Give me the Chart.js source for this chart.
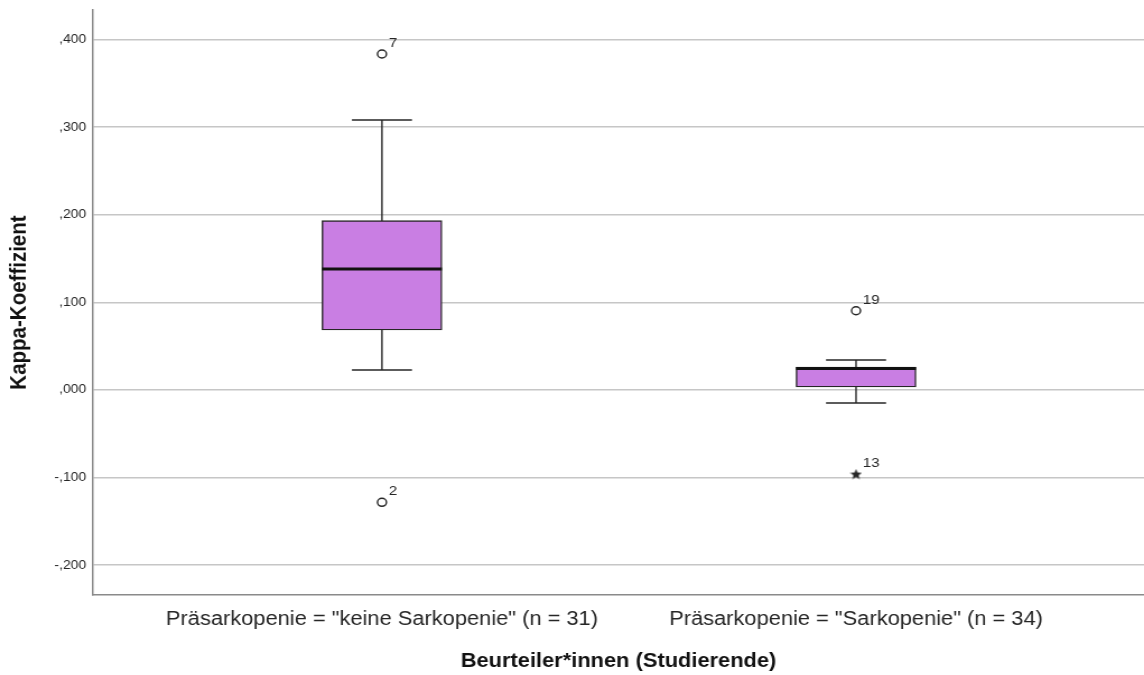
<!DOCTYPE html>
<html lang="de">
<head>
<meta charset="utf-8">
<title>Kappa-Koeffizient nach Präsarkopenie</title>
<script src="https://cdn.jsdelivr.net/npm/chart.js@4/dist/chart.umd.min.js"></script>
<style>
  html, body { margin: 0; padding: 0; background: #ffffff; overflow: hidden; }
  #wrap { width: 1021px; height: 675px; transform: scaleX(1.1205); transform-origin: 0 0; }
</style>
</head>
<body>
<div id="wrap"><canvas id="chart" width="1021" height="675"></canvas></div>
<script>
// Gruppen (x-Positionen 1 und 2)
const categories = ['Präsarkopenie = "keine Sarkopenie" (n = 31)', 'Präsarkopenie = "Sarkopenie" (n = 34)'];
// Boxplot-Kennwerte je Gruppe
const whiskerLow  = [0.0228, -0.0148];
const quartile1   = [0.0685, 0.0034];
const medianValue = [0.1381, 0.0245];
const quartile3   = [0.1933, 0.0263];
const whiskerHigh = [0.3082, 0.0342];
// Ausreißer (o) und Extremwerte (*) mit Fallnummern
const outlierGroup = [1, 1, 2];
const outlierValue = [0.3836, -0.1282, 0.0905];
const outlierCase  = ['7', '2', '19'];
const extremeGroup = [2];
const extremeValue = [-0.0959];
const extremeCase  = ['13'];
// Achsenbeschriftung
const yTickValues = [-0.2, -0.1, 0, 0.1, 0.2, 0.3, 0.4];

const FONT = "'Liberation Sans', Arial, sans-serif";
const INK = '#262626';

function formatKappa(v) {
  const s = Math.abs(v).toFixed(3).split('.')[1];
  return (v < -1e-9 ? '-' : '') + ',' + s;
}

// gefüllter Stern für Extremwerte
function makeStar(size) {
  const c = document.createElement('canvas');
  c.width = size; c.height = size;
  const g = c.getContext('2d');
  g.fillStyle = INK;
  g.beginPath();
  for (let i = 0; i < 10; i++) {
    const r = i % 2 ? size * 0.22 : size * 0.5;
    const a = -Math.PI / 2 + i * Math.PI / 5;
    g.lineTo(size / 2 + r * Math.cos(a), size / 2 + 0.5 + r * Math.sin(a));
  }
  g.closePath();
  g.fill();
  return c;
}

const groups = categories.map((_, i) => i + 1);

const boxData = groups.map((g, i) => ({ x: g, y: [quartile1[i], quartile3[i]] }));
const whiskerData = [];
groups.forEach((g, i) => {
  whiskerData.push({ x: g, y: whiskerLow[i] }, { x: g, y: whiskerHigh[i] }, { x: g + 0.5, y: null });
});
const capData = [];
groups.forEach((g, i) => { capData.push({ x: g, y: whiskerLow[i] }, { x: g, y: whiskerHigh[i] }); });
const medianData = groups.map((g, i) => ({ x: g, y: medianValue[i] }));
const outlierData = outlierValue.map((v, i) => ({ x: outlierGroup[i], y: v }));
const extremeData = extremeValue.map((v, i) => ({ x: extremeGroup[i], y: v }));

// Fallnummern neben Ausreißern/Extremwerten
const caseLabels = {
  id: 'caseLabels',
  afterDatasetsDraw(chart) {
    const ctx = chart.ctx;
    ctx.save();
    ctx.fillStyle = INK;
    ctx.font = '13.5px ' + FONT;
    ctx.textAlign = 'left';
    ctx.textBaseline = 'alphabetic';
    chart.data.datasets.forEach((ds, di) => {
      if (!ds.caseNumbers) return;
      chart.getDatasetMeta(di).data.forEach((pt, j) => {
        ctx.fillText(ds.caseNumbers[j], pt.x + 6, pt.y - 7);
      });
    });
    ctx.restore();
  }
};

new Chart(document.getElementById('chart'), {
  type: 'bar',
  data: {
    datasets: [
      {
        type: 'line', data: whiskerData, borderColor: INK, borderWidth: 1.4,
        pointRadius: 0, spanGaps: false, order: 6
      },
      {
        type: 'scatter', data: capData, pointStyle: 'line', pointRadius: 26.8,
        borderColor: INK, borderWidth: 1.4, order: 5
      },
      {
        type: 'bar', data: boxData, backgroundColor: '#c97ee3', borderColor: INK,
        borderWidth: 1.4, borderSkipped: false, barThickness: 107, grouped: false, order: 4
      },
      {
        type: 'scatter', data: medianData, pointStyle: 'line', pointRadius: 53.5,
        borderColor: '#111111', borderWidth: 3, order: 1
      },
      {
        type: 'scatter', data: outlierData, pointStyle: 'circle', pointRadius: 4,
        backgroundColor: '#ffffff', borderColor: INK, borderWidth: 1.4, order: 2,
        caseNumbers: outlierCase
      },
      {
        type: 'scatter', data: extremeData, pointStyle: makeStar(11), pointRadius: 5.5,
        order: 2, caseNumbers: extremeCase
      }
    ]
  },
  options: {
    responsive: false,
    animation: false,
    events: [],
    layout: { autoPadding: false, padding: { top: 10, right: 0, bottom: 0, left: 0 } },
    plugins: { legend: { display: false }, tooltip: { enabled: false } },
    scales: {
      x: {
        type: 'linear',
        offset: false,
        min: 0.3905,
        max: 2.6075,
        afterBuildTicks: s => { s.ticks = groups.map(v => ({ value: v })); },
        afterFit: s => { s.height = 80; s.paddingLeft = 0; s.paddingRight = 0; },
        grid: { display: false, drawTicks: false },
        border: { display: true, color: '#8a8a8a', width: 1.5 },
        ticks: {
          autoSkip: false, maxRotation: 0, minRotation: 0, padding: 13,
          color: INK, font: { family: FONT, size: 19.5 },
          callback: v => categories[Math.round(v) - 1] || ''
        },
        title: {
          display: true, text: 'Beurteiler*innen (Studierende)', color: '#111111',
          font: { family: FONT, size: 19.5, weight: 'bold' },
          padding: { top: 0, bottom: 1.5 }
        }
      },
      y: {
        min: -0.234,
        max: 0.4338,
        afterBuildTicks: s => { s.ticks = yTickValues.map(v => ({ value: v })); },
        afterFit: s => { s.width = 83; s.paddingTop = 0; s.paddingBottom = 0; },
        grid: { color: '#c6c6c6', lineWidth: 1.5, drawTicks: false },
        border: { display: true, color: '#8a8a8a', width: 1.5 },
        ticks: {
          padding: 6, color: INK, font: { family: FONT, size: 12.5 },
          callback: v => formatKappa(v)
        },
        title: {
          display: true, text: 'Kappa-Koeffizient', color: '#111111',
          font: { family: FONT, size: 20.5, weight: 'bold' },
          padding: { top: 5.5, bottom: 0 }
        }
      }
    }
  },
  plugins: [caseLabels]
});
</script>
</body>
</html>
